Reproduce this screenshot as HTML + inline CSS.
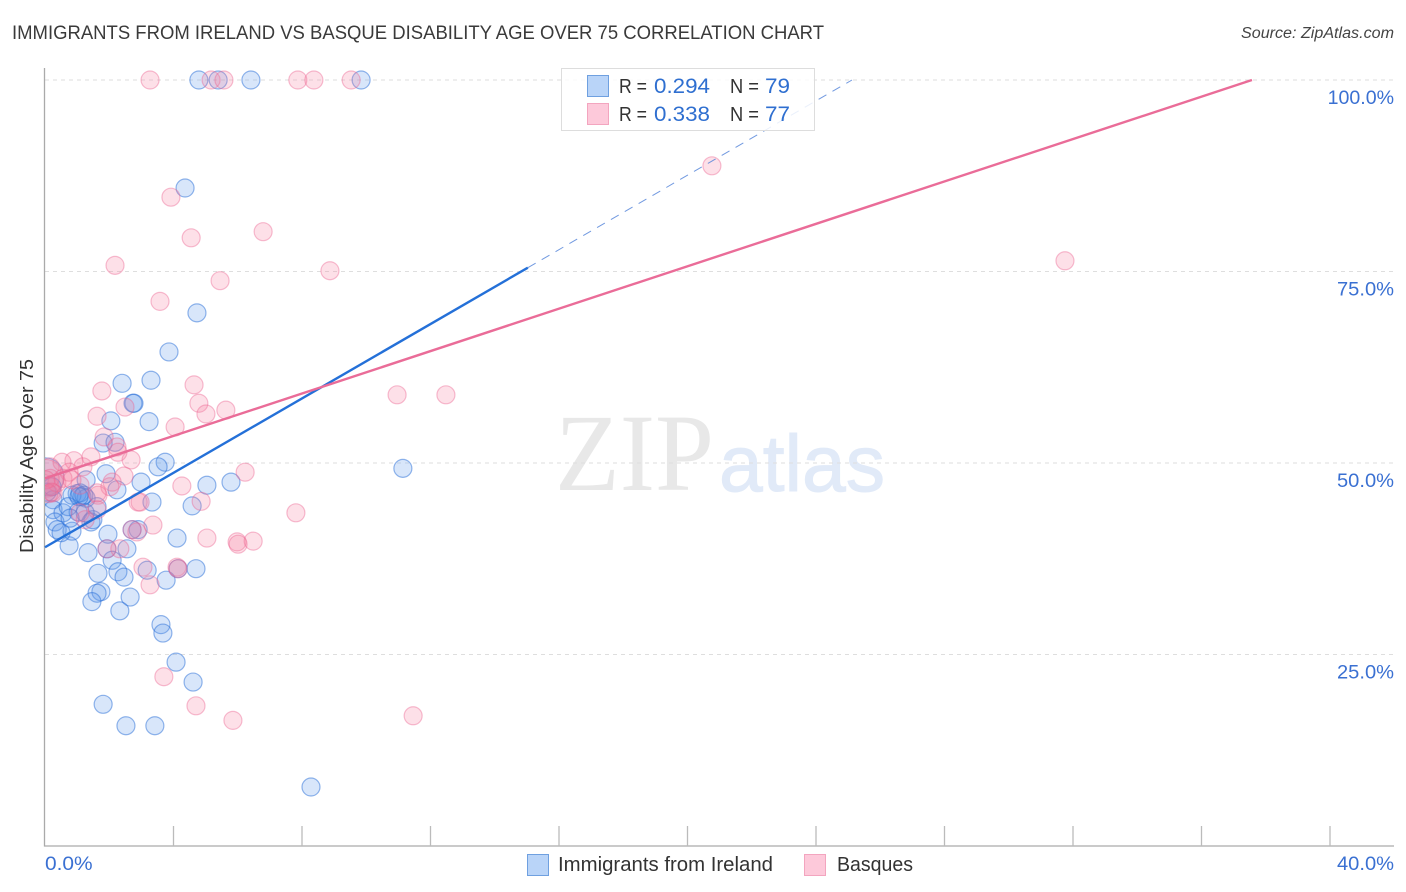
<!DOCTYPE html>
<html lang="en">
<head>
<meta charset="utf-8">
<title>Immigrants from Ireland vs Basque Disability Age Over 75 Correlation Chart</title>
<style>
html,body{margin:0;padding:0;background:#fff;}
svg{display:block;}
text{font-family:"Liberation Sans",sans-serif;}
</style>
</head>
<body>
<svg id="chart" width="1406" height="892" viewBox="0 0 1406 892" xmlns="http://www.w3.org/2000/svg">
<defs><clipPath id="plot-clip"><rect x="45" y="60" width="1349" height="786"/></clipPath></defs>
<text x="12" y="39" font-size="19.5" fill="#3a3a3a" textLength="812" lengthAdjust="spacingAndGlyphs">IMMIGRANTS FROM IRELAND VS BASQUE DISABILITY AGE OVER 75 CORRELATION CHART</text>
<text x="1241" y="38" font-size="15.5" font-style="italic" fill="#444" textLength="153" lengthAdjust="spacingAndGlyphs">Source: ZipAtlas.com</text>
<g>
<text x="555" y="490" font-size="110" fill="#e8e8e8" style="font-family:'Liberation Serif',serif" textLength="159" lengthAdjust="spacingAndGlyphs">ZIP</text>
<text x="719" y="491" font-size="80" fill="#e1eaf8" stroke="#e1eaf8" stroke-width="1" textLength="166" lengthAdjust="spacingAndGlyphs">atlas</text>
</g>
<g id="grid"></g>
<g id="axes"></g>
<g id="points" clip-path="url(#plot-clip)"></g>
<g id="trends"></g>
<text transform="translate(33,456) rotate(-90)" font-size="18" fill="#333" text-anchor="middle" textLength="194" lengthAdjust="spacingAndGlyphs">Disability Age Over 75</text>
<g>
<rect x="561.5" y="68.5" width="253" height="62" fill="#fff" fill-opacity="0.85" stroke="#ddd" stroke-width="1"/>
<rect x="587.5" y="75.5" width="21" height="21" fill="#b9d4f8" stroke="#6fa0e0" stroke-width="1"/>
<rect x="587.5" y="103.5" width="21" height="21" fill="#fdc9da" stroke="#f3a5bf" stroke-width="1"/>
<text x="619" y="93" font-size="20" fill="#333" textLength="28" lengthAdjust="spacingAndGlyphs">R =</text>
<text x="654" y="93" font-size="21" fill="#2f6fd0" textLength="56" lengthAdjust="spacingAndGlyphs">0.294</text>
<text x="730" y="93" font-size="20" fill="#333" textLength="29" lengthAdjust="spacingAndGlyphs">N =</text>
<text x="765" y="93" font-size="21" fill="#2f6fd0" textLength="25" lengthAdjust="spacingAndGlyphs">79</text>
<text x="619" y="121" font-size="20" fill="#333" textLength="28" lengthAdjust="spacingAndGlyphs">R =</text>
<text x="654" y="121" font-size="21" fill="#2f6fd0" textLength="56" lengthAdjust="spacingAndGlyphs">0.338</text>
<text x="730" y="121" font-size="20" fill="#333" textLength="29" lengthAdjust="spacingAndGlyphs">N =</text>
<text x="765" y="121" font-size="21" fill="#2f6fd0" textLength="25" lengthAdjust="spacingAndGlyphs">77</text>
</g>
<g>
<rect x="527.5" y="854.5" width="21" height="21" fill="#b9d4f8" stroke="#6fa0e0" stroke-width="1"/>
<text x="558" y="871" font-size="20" fill="#333" textLength="215" lengthAdjust="spacingAndGlyphs">Immigrants from Ireland</text>
<rect x="804.5" y="854.5" width="21" height="21" fill="#fdc9da" stroke="#f3a5bf" stroke-width="1"/>
<text x="837" y="871" font-size="20" fill="#333" textLength="76" lengthAdjust="spacingAndGlyphs">Basques</text>
</g>
<script>
const irelandX = [4.79,6.41,9.84,5.39,4.36,4.73,3.86,3.30,2.40,2.77,2.74,2.05,3.24,1.81,2.18,3.74,3.52,1.90,1.28,2.99,5.04,5.79,11.14,2.24,3.33,4.58,1.62,4.11,2.90,2.71,0.75,1.34,1.96,2.55,1.93,2.09,1.65,2.27,2.46,3.18,4.14,4.70,3.77,1.74,1.62,1.46,2.65,2.33,3.61,3.67,4.08,4.61,1.81,2.52,3.42,8.28,1.00,1.15,1.28,0.84,1.09,0.25,0.25,0.56,1.03,0.31,0.38,0.84,1.43,1.49,1.25,0.72,0.50,0.06,0.22,0.78,1.21,1.06];
const irelandY = [100,100,100,100,85.9,69.6,64.5,60.8,60.4,57.8,57.8,55.5,55.4,52.6,52.7,50.1,49.5,48.6,47.8,47.5,47.1,47.5,49.3,46.5,44.9,44.4,44.3,40.2,41.3,41.3,39.2,38.3,40.7,38.8,38.8,37.3,35.6,35.8,35.1,36.0,36.2,36.2,34.7,33.2,33.0,31.9,32.5,30.7,28.9,27.8,24.0,21.4,18.5,15.7,15.7,7.7,46.0,45.6,45.4,45.8,46.1,45.2,43.9,43.5,43.6,42.3,41.3,41.1,42.3,42.6,43.5,44.3,40.9,46.2,46.9,42.8,45.8,45.6];
const basquesX = [3.27,5.17,5.57,7.87,8.37,9.53,20.76,3.92,6.79,4.55,2.18,8.87,31.75,5.45,3.58,4.64,10.96,12.48,1.77,4.79,2.49,5.63,5.01,1.62,4.05,1.84,2.24,2.27,2.68,1.43,0.90,0.53,1.18,0.75,6.23,2.46,2.09,2.02,4.26,4.86,2.90,2.96,1.65,3.36,7.81,5.04,5.98,6.01,6.48,1.09,1.62,2.71,2.86,1.93,2.33,3.05,4.11,4.14,3.27,3.70,4.70,5.85,11.46,0.16,0.25,0.37,0.56,1.09,1.62,0.16,0.16,0.12,0.03,0.20,1.25,0.84];
const basquesY = [100,100,100,100,100,100,88.8,84.7,80.2,79.4,75.8,75.1,76.4,73.8,71.1,60.2,58.9,58.9,59.4,57.8,57.3,56.9,56.4,56.1,54.7,53.4,52.1,51.4,50.4,50.8,50.3,50.1,49.5,48.8,48.8,48.3,47.5,46.9,47.0,45.0,44.9,44.9,45.8,41.9,43.5,40.2,39.7,39.4,39.8,43.5,43.9,41.3,41.0,38.8,38.8,36.4,36.4,36.2,34.1,22.1,18.3,16.4,17.0,46.9,46.1,47.4,48.0,47.1,46.1,49.5,48.0,46.0,47.8,46.2,42.6,47.8];
const irelandClusterPoint = [0.0, 48.2];
const basquesClusterPoint = [0.0, 48.0];
const irelandTrendStart = [0, 39.0];
const irelandTrendSolidEnd = [15.03, 75.5];
const irelandTrendDashEnd = [25.12, 100];
const basquesTrendStart = [0, 48.0];
const basquesTrendEnd = [37.57, 100];
const xTickValues = [4,8,12,16,20,24,28,32,36,40];
const xAxisLabels = [[0,'0.0%'],[40,'40.0%']];
const yTickValues = [25,50,75,100];
const yTickLabels = ['25.0%','50.0%','75.0%','100.0%'];

const NS = 'http://www.w3.org/2000/svg';
const xPos = v => 45 + v * 32.125;
const yPos = v => 846 - v * 7.66;
function make(parent, tag, props) {
  const el = document.createElementNS(NS, tag);
  for (const k in props) el.setAttribute(k, props[k]);
  parent.appendChild(el);
  return el;
}
const labelWidth = s => s.length * 9.4 + 10;
const grid = document.getElementById('grid');
const axes = document.getElementById('axes');
const points = document.getElementById('points');
const trends = document.getElementById('trends');

yTickValues.forEach((v, i) => {
  const line = make(grid, 'line', {x1: 45, x2: 1394, y1: yPos(v), y2: yPos(v), stroke: '#dedede', 'stroke-width': 1, 'stroke-dasharray': '4 4'});
  
  
  const w = labelWidth(yTickLabels[i]);
  const label = make(axes, 'text', {x: 1394 - w, y: yPos(v) + 24, 'font-size': 19.5, fill: '#3a70d2', textLength: w, lengthAdjust: 'spacingAndGlyphs'});
  
  
  label.textContent = yTickLabels[i];
});
const yAxisLine = make(axes, 'line', {x1: 44.5, x2: 44.5, y1: 68, y2: 846.5, stroke: '#aaa', 'stroke-width': 1.3});


const xAxisLine = make(axes, 'line', {x1: 44, x2: 1394, y1: 846, y2: 846, stroke: '#aaa', 'stroke-width': 1.3});


xTickValues.forEach(v => {
  const tick = make(axes, 'line', {x1: xPos(v), x2: xPos(v), y1: 826, y2: 846, stroke: '#bbb', 'stroke-width': 1.3});
  
  
});
xAxisLabels.forEach(([v, s]) => {
  const isEnd = v === 40;
  const w = labelWidth(s);
  const label = make(axes, 'text', {x: isEnd ? 1394 - w : xPos(v), y: 870, 'font-size': 19.5, fill: '#3a70d2', textLength: w, lengthAdjust: 'spacingAndGlyphs'});
  
  
  label.textContent = s;
});

const irelandStyle = {fill: 'rgba(90,150,235,0.24)', stroke: 'rgba(40,110,215,0.5)', 'stroke-width': 1.2};
const basquesStyle = {fill: 'rgba(245,125,160,0.24)', stroke: 'rgba(235,100,145,0.42)', 'stroke-width': 1.2};

function bigDot(pt, style) {
  const c = make(points, 'circle', Object.assign({cx: xPos(pt[0]), cy: yPos(pt[1]), r: 19}, style));
  return c;
}
const bigIreland = bigDot(irelandClusterPoint, irelandStyle);


const bigBasques = bigDot(basquesClusterPoint, basquesStyle);



irelandX.forEach((x, i) => {
  const c = make(points, 'circle', Object.assign({cx: xPos(x), cy: yPos(irelandY[i]), r: 9}, irelandStyle));
  
  
});
basquesX.forEach((x, i) => {
  const c = make(points, 'circle', Object.assign({cx: xPos(x), cy: yPos(basquesY[i]), r: 9}, basquesStyle));
  
  
});

const irelandDash = make(trends, 'line', {x1: xPos(irelandTrendSolidEnd[0]), y1: yPos(irelandTrendSolidEnd[1]), x2: xPos(irelandTrendDashEnd[0]), y2: yPos(irelandTrendDashEnd[1]), stroke: '#4d80d8', 'stroke-width': 1, 'stroke-dasharray': '9 7', 'stroke-opacity': 0.8});


const irelandTrend = make(trends, 'line', {x1: xPos(irelandTrendStart[0]), y1: yPos(irelandTrendStart[1]), x2: xPos(irelandTrendSolidEnd[0]), y2: yPos(irelandTrendSolidEnd[1]), stroke: '#2470d8', 'stroke-width': 2.4});


const basquesTrend = make(trends, 'line', {x1: xPos(basquesTrendStart[0]), y1: yPos(basquesTrendStart[1]), x2: xPos(basquesTrendEnd[0]), y2: yPos(basquesTrendEnd[1]), stroke: '#ea6c98', 'stroke-width': 2.4});


</script>
</svg>
</body>
</html>
